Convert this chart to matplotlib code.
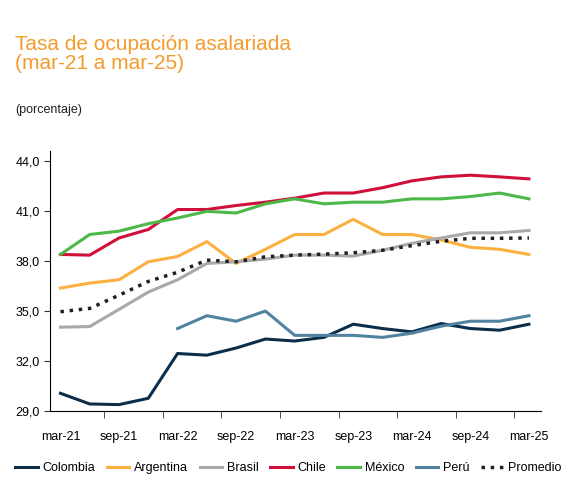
import matplotlib

matplotlib.use("Agg")
import matplotlib.pyplot as plt
import numpy as np

plt.rcParams["font.family"] = ["Liberation Sans", "DejaVu Sans"]

tick_labels = ["mar-21", "sep-21", "mar-22", "sep-22", "mar-23", "sep-23", "mar-24", "sep-24", "mar-25"]
n_quarters = 17

colombia = [30.07, 29.43, 29.39, 29.77, 32.46, 32.36, 32.79, 33.33, 33.21, 33.43, 34.22, 33.96, 33.76, 34.26, 33.96, 33.86, 34.22]
argentina = [36.39, 36.69, 36.89, 37.97, 38.29, 39.18, 37.87, 38.72, 39.61, 39.61, 40.52, 39.61, 39.61, 39.28, 38.84, 38.72, 38.41]
brasil = [34.04, 34.08, 35.11, 36.15, 36.89, 37.87, 37.97, 38.13, 38.37, 38.37, 38.31, 38.66, 39.08, 39.40, 39.71, 39.71, 39.85]
chile = [38.41, 38.37, 39.40, 39.91, 41.11, 41.11, 41.35, 41.55, 41.79, 42.10, 42.10, 42.42, 42.83, 43.07, 43.17, 43.07, 42.95]
mexico = [38.41, 39.61, 39.81, 40.26, 40.60, 41.00, 40.90, 41.45, 41.75, 41.45, 41.55, 41.55, 41.75, 41.75, 41.89, 42.10, 41.75]
peru = [np.nan] * 4 + [33.96, 34.73, 34.40, 35.01, 33.55, 33.55, 33.55, 33.43, 33.68, 34.10, 34.40, 34.40, 34.73]
promedio = [34.97, 35.17, 35.96, 36.79, 37.34, 38.07, 37.97, 38.27, 38.37, 38.43, 38.51, 38.66, 38.94, 39.20, 39.38, 39.38, 39.40]

series = [
    ("Colombia", colombia, "#0b2e4a", "-"),
    ("Argentina", argentina, "#fbb040", "-"),
    ("Brasil", brasil, "#a7a9ac", "-"),
    ("Chile", chile, "#d0103a", "-"),
    ("México", mexico, "#4cb848", "-"),
    ("Perú", peru, "#5182a0", "-"),
    ("Promedio", promedio, "#231f20", ":"),
]

fig = plt.figure(figsize=(5.77, 4.90), dpi=100)
ax = fig.add_axes([0.087, 0.161, 0.85, 0.53])
x = np.arange(n_quarters)
for name, values, color, style in series:
    ax.plot(x, values, color=color, linestyle=style, linewidth=2.5 if style == ":" else 2.2, label=name)

ax.set_xlim(-0.35, n_quarters - 0.6)
ax.set_ylim(29, 44.6)
ax.set_yticks(np.arange(29, 45, 3))
ax.set_yticklabels([f"{v:.1f}".replace(".", ",") for v in np.arange(29, 45, 3)], fontsize=9)
ax.set_xticks(np.arange(0, n_quarters, 2))
ax.set_xticklabels(tick_labels, fontsize=9)
ax.set_xticks(np.arange(1.5, n_quarters - 1, 2), minor=True)
ax.tick_params(axis="x", which="major", length=0, pad=14)
ax.tick_params(axis="x", which="minor", length=5, color="#333333")
ax.tick_params(axis="y", length=4, color="#333333")
for side in ("top", "right"):
    ax.spines[side].set_visible(False)

fig.text(0.026, 0.89, "Tasa de ocupación asalariada\n(mar-21 a mar-25)", color="#f39c2d",
         fontsize=15, va="center", linespacing=1.0)
fig.text(0.026, 0.77, "(porcentaje)", fontsize=9, color="#231f20")

fig.legend(loc="center", bbox_to_anchor=(0.5, 0.045), ncol=7, frameon=False, fontsize=9,
           handlelength=1.8, handletextpad=0.4, columnspacing=0.9)

fig.savefig("out.png", dpi=100)
